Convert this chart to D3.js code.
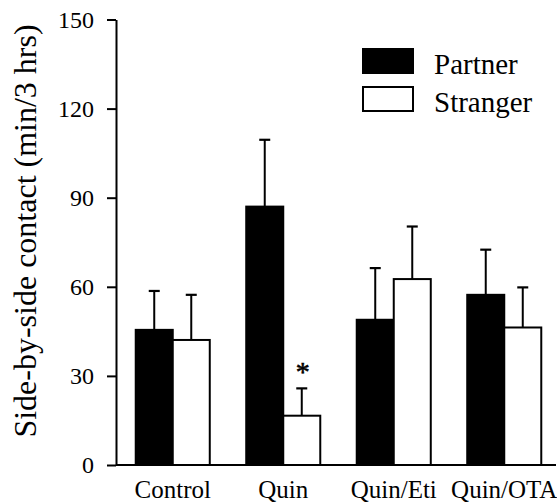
<!DOCTYPE html>
<html>
<head>
<meta charset="utf-8">
<script src="https://cdn.jsdelivr.net/npm/d3@7"></script>
<style>
  html, body { margin: 0; padding: 0; background: #fff; }
  svg { display: block; }
  svg text { font-family: "Liberation Serif", "Times New Roman", serif !important; fill: #000; }
</style>
</head>
<body>
<svg id="chart" width="557" height="504"></svg>
<script>
const categories = ["Control", "Quin", "Quin/Eti", "Quin/OTA"];
const seriesNames = ["Partner", "Stranger"];
const partnerMean = [45.5, 87.0, 48.9, 57.3];
const partnerSE   = [13.1, 22.5, 17.4, 15.2];
const strangerMean = [42.1, 16.6, 62.6, 46.3];
const strangerSE   = [15.2, 9.2, 17.7, 13.5];
const yTicks = [0, 30, 60, 90, 120, 150];
const yLabel = "Side-by-side contact (min/3 hrs)";
const significant = [{ category: "Quin", series: "Stranger", mark: "*" }];

const serif = '"Liberation Serif", "Times New Roman", serif';
const svg = d3.select("#chart").attr("font-family", serif);
const axisX = 116, baseY = 465, topY = 19.5, rightX = 556;

const y = d3.scaleLinear().domain([0, 150]).range([baseY, topY]);
const x0 = d3.scaleBand().domain(categories).range([117.5, 559.5])
  .paddingInner(0.33).paddingOuter(0.165);
const x1 = d3.scaleBand().domain(seriesNames).range([0, x0.bandwidth()]);

const rows = [];
categories.forEach((c, i) => {
  rows.push({ category: c, series: "Partner", mean: partnerMean[i], se: partnerSE[i] });
  rows.push({ category: c, series: "Stranger", mean: strangerMean[i], se: strangerSE[i] });
});
const fill = { Partner: "#000", Stranger: "#fff" };

// baseline
svg.append("line").attr("x1", axisX).attr("x2", rightX)
  .attr("y1", baseY).attr("y2", baseY)
  .attr("stroke", "#000").attr("stroke-width", 2);

// error bars
const eg = svg.append("g");
rows.forEach(d => {
  const cx = x0(d.category) + x1(d.series) + x1.bandwidth() / 2;
  eg.append("line").attr("x1", cx).attr("x2", cx)
    .attr("y1", y(d.mean)).attr("y2", y(d.mean + d.se))
    .attr("stroke", "#000").attr("stroke-width", 2);
  eg.append("line").attr("x1", cx - 5.5).attr("x2", cx + 5.5)
    .attr("y1", y(d.mean + d.se)).attr("y2", y(d.mean + d.se))
    .attr("stroke", "#000").attr("stroke-width", 2.2);
});

// bars
svg.append("g").selectAll("rect").data(rows).join("rect")
  .attr("x", d => x0(d.category) + x1(d.series))
  .attr("y", d => y(d.mean))
  .attr("width", x1.bandwidth())
  .attr("height", d => y(0) - y(d.mean))
  .attr("fill", d => fill[d.series])
  .attr("stroke", "#000").attr("stroke-width", 2);

// significance marks
significant.forEach(s => {
  const r = rows.find(d => d.category === s.category && d.series === s.series);
  const cx = x0(r.category) + x1(r.series) + x1.bandwidth() / 2;
  svg.append("text").attr("x", cx + 1).attr("y", y(r.mean + r.se) - 7)
    .attr("text-anchor", "middle").attr("font-size", 28)
    .attr("stroke", "#000").attr("stroke-width", 0.6).text(s.mark);
});

// y axis
const yAxis = d3.axisLeft(y).tickValues(yTicks).tickSize(9).tickSizeOuter(0).tickPadding(13);
const yg = svg.append("g").attr("transform", `translate(${axisX},0)`).call(yAxis)
  .attr("font-family", serif).attr("font-size", 24);
yg.select(".domain").attr("stroke-width", 2);
yg.selectAll(".tick line").attr("stroke-width", 2);

// x axis labels
const xAxis = d3.axisBottom(x0).tickSize(0).tickPadding(15);
const xg = svg.append("g").attr("transform", `translate(0,${baseY})`).call(xAxis)
  .attr("font-family", serif).attr("font-size", 25);
xg.select(".domain").remove();

// y title
svg.append("text").attr("transform", "translate(36,231) rotate(-90)")
  .attr("text-anchor", "middle").attr("font-size", 32).text(yLabel);

// legend
const lg = svg.append("g");
seriesNames.forEach((s, i) => {
  const top = 49 + i * 38;
  lg.append("rect").attr("x", 363).attr("y", top).attr("width", 50).attr("height", 24)
    .attr("fill", fill[s]).attr("stroke", "#000").attr("stroke-width", 2);
  lg.append("text").attr("x", 434).attr("y", top + 25).attr("font-size", 29).text(s);
});
</script>
</body>
</html>
